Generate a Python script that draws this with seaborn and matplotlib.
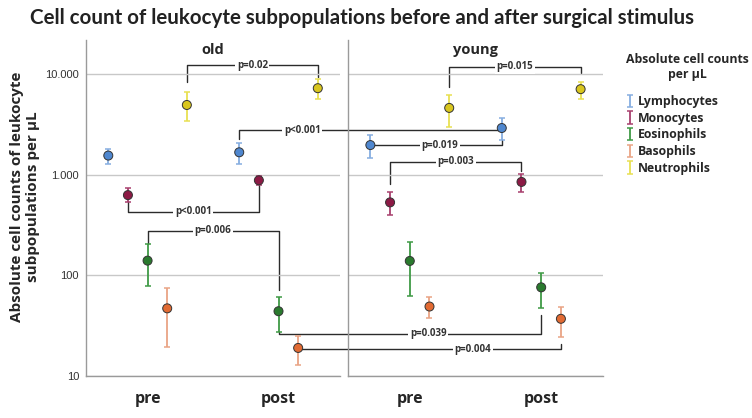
import pandas as pd
import matplotlib.pyplot as plt
import numpy as np
import seaborn as sns
from matplotlib.lines import Line2D
from matplotlib.ticker import FixedLocator, NullLocator

sns.set_style("white")
plt.rcParams['font.family'] = ['Open Sans', 'DejaVu Sans']

times = ["pre", "post"]
groups = ["old", "young"]
cells = ["Lymphocytes", "Monocytes", "Eosinophils", "Basophils", "Neutrophils"]

# mean and error-bar ends (cells per µL), [pre, post]
old_mean = {"Lymphocytes": [1550, 1670], "Monocytes": [627, 880], "Eosinophils": [140, 44],
            "Basophils": [47, 19], "Neutrophils": [4930, 7240]}
old_low = {"Lymphocytes": [1290, 1290], "Monocytes": [530, 798], "Eosinophils": [78.5, 27.6],
           "Basophils": [19.2, 12.9], "Neutrophils": [3390, 5650]}
old_high = {"Lymphocytes": [1820, 2060], "Monocytes": [730, 970], "Eosinophils": [203, 61.5],
            "Basophils": [75.5, 24.8], "Neutrophils": [6570, 8880]}
young_mean = {"Lymphocytes": [1970, 2910], "Monocytes": [531, 848], "Eosinophils": [139, 76],
              "Basophils": [49, 37], "Neutrophils": [4610, 7080]}
young_low = {"Lymphocytes": [1480, 2220], "Monocytes": [394, 676], "Eosinophils": [63, 47],
             "Basophils": [37.3, 24.4], "Neutrophils": [3000, 5650]}
young_high = {"Lymphocytes": [2470, 3620], "Monocytes": [667, 1006], "Eosinophils": [215, 105],
              "Basophils": [61, 49], "Neutrophils": [6220, 8410]}

# significance brackets: (group a, time a, cell, end a, group b, time b, end b, line y, label, label pos)
brackets = [
    ("old", "pre", "Neutrophils", 8400, "old", "post", 9420, 12250, "p=0.02", 0.5),
    ("old", "post", "Lymphocytes", 2240, "young", "post", 2760, 2760, "p<0.001", 0.24),
    ("old", "pre", "Monocytes", 530, "old", "post", 810, 430, "p<0.001", 0.5),
    ("old", "pre", "Eosinophils", 203, "old", "post", 72, 278, "p=0.006", 0.5),
    ("old", "post", "Eosinophils", 27.6, "young", "post", 40.3, 26.2, "p=0.039", 0.57),
    ("old", "post", "Basophils", 18.4, "young", "post", 21.0, 18.4, "p=0.004", 0.665),
    ("young", "pre", "Neutrophils", 7500, "young", "post", 10150, 11800, "p=0.015", 0.5),
    ("young", "pre", "Lymphocytes", 1970, "young", "post", 2230, 1970, "p=0.019", 0.53),
    ("young", "pre", "Monocytes", 804, "young", "post", 1100, 1350, "p=0.003", 0.5),
]

fill = {"Lymphocytes": "#4f87cf", "Monocytes": "#8c1a45", "Eosinophils": "#2a7a2e",
        "Basophils": "#e26a32", "Neutrophils": "#d9c61e"}
bar = {"Lymphocytes": "#86aee0", "Monocytes": "#a8406e", "Eosinophils": "#3f9a45",
       "Basophils": "#e9a485", "Neutrophils": "#e8e052"}
offset = dict(zip(cells, [-0.3, -0.15, 0.0, 0.15, 0.3]))

rows = []
for g, m, lo, hi in [("old", old_mean, old_low, old_high), ("young", young_mean, young_low, young_high)]:
    for c in cells:
        for i, t in enumerate(times):
            rows.append({"group": g, "time": t, "cell": c, "x": i + offset[c],
                         "mean": m[c][i], "low": lo[c][i], "high": hi[c][i]})
df = pd.DataFrame(rows)

fig = plt.figure(figsize=(7.52, 4.18), dpi=100)
axes = {"old": fig.add_axes([0.1144, 0.1005, 0.3378, 0.8038]),
        "young": fig.add_axes([0.4628, 0.1005, 0.339, 0.8038])}

handles = []
for g, ax in axes.items():
    ax.set_facecolor("none")
    sub = df[df["group"] == g]
    for c in cells:
        s = sub[sub["cell"] == c]
        eb = ax.errorbar(s["x"], s["mean"], yerr=[s["mean"] - s["low"], s["high"] - s["mean"]],
                         fmt="none", ecolor=bar[c], elinewidth=1.3, capsize=2.5, capthick=1.1, zorder=3)
        if g == "old":
            handles.append(eb)
    sns.scatterplot(data=sub, x="x", y="mean", hue="cell", palette=fill, s=42,
                    edgecolor="#333333", linewidth=0.7, legend=False, ax=ax, zorder=4)
    ax.set_yscale("log")
    ax.set_ylim(10, 21800)
    ax.set_xlim(-0.47, 1.47)
    ax.yaxis.set_major_locator(FixedLocator([10, 100, 1000, 10000]))
    ax.yaxis.set_minor_locator(NullLocator())
    ax.grid(axis="y", color="#c8c8c8", linewidth=1)
    ax.set_axisbelow(True)
    ax.set_xticks(range(len(times)))
    ax.set_xticklabels(times, fontsize=11.5, fontweight="bold")
    ax.tick_params(axis="x", length=0, pad=11)
    ax.set_xlabel("")
    ax.set_ylabel("")
    for sp in ["top", "right"]:
        ax.spines[sp].set_visible(False)
    for sp in ["left", "bottom"]:
        ax.spines[sp].set_color("#9a9a9a")
        ax.spines[sp].set_linewidth(1)
    ax.text(0.5, 0.97, g, transform=ax.transAxes, ha="center", va="center",
            fontsize=10.5, fontweight="bold")

axes["old"].set_yticklabels(["10", "100", "1.000", "10.000"], family="Liberation Sans",
                            fontsize=8, color="#333333")
axes["old"].tick_params(axis="y", length=3, color="#9a9a9a", pad=2)
axes["young"].set_yticklabels([])
axes["young"].tick_params(axis="y", length=0)

inv = fig.transFigure.inverted()


def fpt(g, t, c, y):
    ax = axes[g]
    return inv.transform(ax.transData.transform((times.index(t) + offset[c], y)))


for ga, ta, c, ea, gb, tb, eb_, yl, lab, frac in brackets:
    p1 = fpt(ga, ta, c, ea)
    p2 = fpt(ga, ta, c, yl)
    p3 = fpt(gb, tb, c, yl)
    p4 = fpt(gb, tb, c, eb_)
    xs = [p1[0], p2[0], p3[0], p4[0]]
    ys = [p1[1], p2[1], p3[1], p4[1]]
    fig.add_artist(Line2D(xs, ys, color="#2b2b2b", linewidth=1, zorder=-1))
    lx = p2[0] + frac * (p3[0] - p2[0])
    fig.text(lx, p2[1], lab, ha="center", va="center", fontsize=7, fontweight="bold",
             color="#333333", bbox=dict(facecolor="white", edgecolor="none", pad=1.2))

fig.text(0.481, 0.957, "Cell count of leukocyte subpopulations before and after surgical stimulus",
         ha="center", va="center", fontsize=14.8, fontweight="bold", family="Lato",
         color="#222222")
fig.text(0.033, 0.529, "Absolute cell counts of leukocyte\nsubpopulations per µL", rotation=90,
         ha="center", va="center", fontsize=11, fontweight="bold", multialignment="center")

leg = fig.legend(handles, cells, title="Absolute cell counts\nper µL", loc="upper left",
                 bbox_to_anchor=(0.818, 0.899), frameon=False, handlelength=0.6,
                 handletextpad=0.4, labelspacing=0.3, alignment="left",
                 prop={"weight": "bold", "size": 8.8},
                 title_fontproperties={"weight": "bold", "size": 8.8})
leg.get_title().set_multialignment("center")
leg._legend_box.sep = 10

fig.savefig("out.png", dpi=100)
